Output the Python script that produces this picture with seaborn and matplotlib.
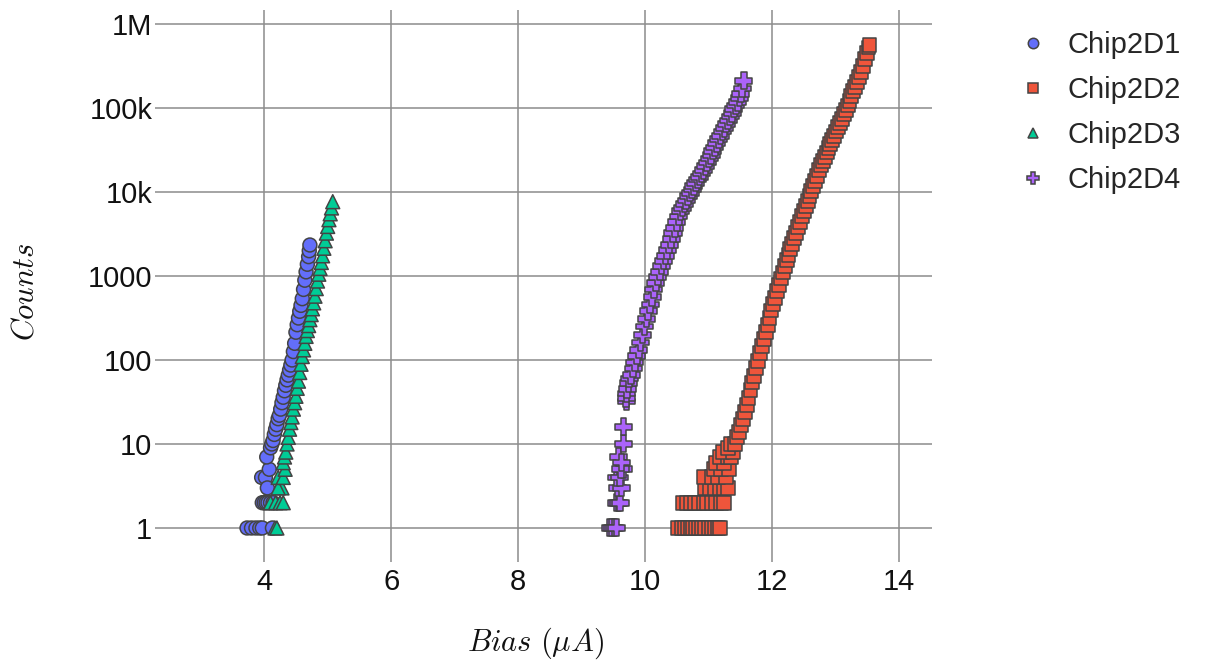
import numpy as np
import pandas as pd
import matplotlib
matplotlib.use("Agg")
import matplotlib.pyplot as plt
import seaborn as sns

# ---------------- data ----------------
series_names = ["Chip2D1", "Chip2D2", "Chip2D3", "Chip2D4"]
series_colors = ["#636EFA", "#EF553B", "#00CC96", "#AB63FA"]
series_markers = ["o", "s", "^", "P"]
series_sizes = [100, 100, 100, 150]

d1_bias = [3.73, 3.80, 3.87, 3.93, 3.97, 4.13,
           3.97, 4.00, 4.03, 4.06, 4.10, 4.14,
           3.96, 4.02, 4.05, 4.08, 4.04,
           4.10, 4.12, 4.14, 4.16, 4.18, 4.20, 4.22, 4.24, 4.26, 4.28,
           4.30, 4.32, 4.34, 4.36, 4.38, 4.40, 4.42, 4.44, 4.46, 4.48,
           4.50, 4.52, 4.54, 4.56, 4.58, 4.60, 4.62, 4.64, 4.66, 4.68,
           4.70, 4.71, 4.72]
d1_counts = [1, 1, 1, 1, 1, 1,
             2, 2, 2, 2, 2, 2,
             4, 4, 3, 5, 7,
             9, 10, 11, 13, 15, 17, 20, 22, 26, 31,
             36, 43, 50, 58, 66, 76, 87, 100, 126, 158,
             214, 263, 316, 380, 447, 537, 692, 891, 1120, 1380,
             1700, 2000, 2340]

d2_bias = [10.52, 10.58, 10.63, 10.68, 10.72, 10.76, 10.80, 10.85, 10.90, 10.95,
           11.00, 11.05, 11.10, 11.15, 11.18,
           10.60, 10.66, 10.72, 10.78, 10.85, 10.92, 10.98, 11.05, 11.12, 11.20, 11.25,
           10.95, 11.02, 11.10, 11.18, 11.25, 11.30,
           10.92, 11.05, 11.15, 11.28,
           11.08, 11.20, 11.32, 11.12, 11.25, 11.18, 11.30, 11.35,
           11.22, 11.38, 11.30, 11.35, 11.42,
           11.45, 11.48, 11.51, 11.54, 11.57, 11.60, 11.63, 11.66, 11.69, 11.72,
           11.75, 11.78, 11.81, 11.84, 11.87, 11.90, 11.93, 11.96, 11.99, 12.02,
           12.05, 12.08, 12.11, 12.14, 12.17, 12.20, 12.23, 12.26, 12.29, 12.32,
           12.35, 12.38, 12.41, 12.44, 12.47, 12.50, 12.53, 12.56, 12.59, 12.62,
           12.65, 12.68, 12.71, 12.74, 12.77, 12.80, 12.83, 12.86, 12.89, 12.92,
           12.95, 12.98, 13.01, 13.04, 13.07, 13.10, 13.13, 13.16, 13.19, 13.22,
           13.25, 13.28, 13.31, 13.34, 13.37, 13.40, 13.43, 13.46, 13.49, 13.52,
           13.535]
d2_counts = [1, 1, 1, 1, 1, 1, 1, 1, 1, 1,
             1, 1, 1, 1, 1,
             2, 2, 2, 2, 2, 2, 2, 2, 2, 2, 2,
             3, 3, 3, 3, 3, 3,
             4, 4, 4, 4,
             5, 5, 5, 6, 6, 7, 7, 7,
             8, 8, 9, 10, 10,
             12, 14, 17, 20, 24, 29, 35, 44, 54, 65,
             80, 98, 120, 145, 178, 214, 263, 316, 389, 468,
             550, 660, 776, 933, 1100, 1320, 1550, 1780, 2090, 2400,
             2820, 3240, 3800, 4370, 5130, 5890, 6760, 7760, 8910, 10200,
             11700, 13500, 15500, 18200, 20900, 23400, 26300, 29500, 33100, 37200,
             41700, 46800, 52500, 58900, 66100, 74100, 85100, 95500, 107000, 120000,
             138000, 158000, 178000, 204000, 234000, 269000, 316000, 380000, 447000, 525000,
             562000]

d3_bias = [4.17, 4.20, 4.10, 4.18, 4.25, 4.30, 4.28, 4.22, 4.22, 4.30, 4.33,
           4.30, 4.32, 4.34, 4.36, 4.38, 4.40, 4.42, 4.44, 4.46, 4.48,
           4.50, 4.52, 4.54, 4.56, 4.58, 4.60, 4.62, 4.64, 4.66, 4.68,
           4.70, 4.72, 4.74, 4.76, 4.78, 4.80, 4.82, 4.84, 4.86, 4.88,
           4.90, 4.92, 4.94, 4.96, 4.98, 5.00, 5.02, 5.04, 5.06, 5.08]
d3_counts = [1, 1, 2, 2, 2, 2, 3, 3, 4, 4, 5,
             6, 7, 8, 10, 12, 15, 18, 21, 26, 31,
             37, 46, 56, 71, 89, 110, 132, 158, 191, 224,
             257, 302, 347, 407, 479, 575, 708, 871, 1050, 1230,
             1450, 1740, 2140, 2630, 3240, 3890, 4680, 5500, 6460, 7670]

d4_bias = [9.45, 9.48, 9.52, 9.55, 9.55, 9.58, 9.61, 9.57, 9.63, 9.55, 9.60,
           9.66, 9.62, 9.58, 9.63, 9.66, 9.66, 9.71, 9.70, 9.71, 9.72,
           9.74, 9.75,
           9.78, 9.81, 9.84, 9.87, 9.90, 9.93, 9.96, 9.99, 10.02, 10.05,
           10.08, 10.11, 10.14, 10.17, 10.20, 10.23, 10.26, 10.29, 10.32, 10.35,
           10.38, 10.41, 10.44, 10.47, 10.50, 10.53, 10.56, 10.59, 10.62, 10.65,
           10.68, 10.71, 10.74, 10.77, 10.80, 10.83, 10.86, 10.89, 10.92, 10.95,
           10.98, 11.01, 11.04, 11.07, 11.10, 11.13, 11.16, 11.19, 11.22, 11.25,
           11.28, 11.31, 11.34, 11.37, 11.40, 11.43, 11.46, 11.49, 11.51, 11.53,
           11.555]
d4_counts = [1, 1, 1, 1, 2, 2, 2, 3, 3, 4, 4,
             5, 5, 7, 6, 10, 16, 32, 35, 40, 45,
             53, 60,
             66, 79, 93, 112, 132, 162, 200, 251, 309, 380,
             457, 562, 692, 832, 977, 1120, 1320, 1510, 1740, 2040,
             2340, 2750, 3240, 3720, 4370, 5130, 5890, 6460, 7240, 7940,
             8910, 9770, 10700, 11700, 12900, 14100, 15100, 16600, 18200, 20400,
             22400, 25100, 27500, 30900, 33900, 38000, 42700, 46800, 52500, 57500,
             64600, 70800, 79400, 87100, 97700, 107000, 117000, 132000, 148000, 170000,
             211000]

y_tick_values = [1, 10, 100, 1000, 10000, 100000, 1000000]
y_tick_labels = ["1", "10", "100", "1000", "10k", "100k", "1M"]
x_tick_values = [4, 6, 8, 10, 12, 14]

# ---------------- build long table ----------------
frames = []
for name, b, c in zip(series_names,
                      [d1_bias, d2_bias, d3_bias, d4_bias],
                      [d1_counts, d2_counts, d3_counts, d4_counts]):
    frames.append(pd.DataFrame({"bias": b, "counts": c, "chip": name}))
df = pd.concat(frames, ignore_index=True)

# ---------------- style ----------------
sns.set_theme(style="white")
plt.rcParams["font.family"] = ["Liberation Sans", "DejaVu Sans"]
plt.rcParams["mathtext.fontset"] = "cm"

W, H = 1207, 666
fig = plt.figure(figsize=(W / 100, H / 100), dpi=100)
ax = fig.add_axes([155 / W, 1 - 562 / H, (932 - 155) / W, (562 - 10) / H])

ax.set_yscale("log")
ax.set_xlim(2.28, 14.52)
ax.set_ylim(10 ** -0.405, 10 ** 6.167)

ax.grid(True, color="#8c8c8c", linewidth=1.1)
ax.set_axisbelow(True)
for s in ax.spines.values():
    s.set_visible(False)

sns.scatterplot(data=df, x="bias", y="counts", hue="chip", style="chip",
                size="chip",
                hue_order=series_names, style_order=series_names,
                size_order=series_names,
                palette=dict(zip(series_names, series_colors)),
                markers=dict(zip(series_names, series_markers)),
                sizes=dict(zip(series_names, series_sizes)),
                edgecolor="#444444", linewidth=1.1, alpha=1,
                ax=ax, legend=True, zorder=3)

ax.set_xticks(x_tick_values)
ax.set_xticklabels([str(v) for v in x_tick_values])
ax.set_yticks(y_tick_values)
ax.set_yticklabels(y_tick_labels)
ax.yaxis.set_minor_locator(matplotlib.ticker.NullLocator())
ax.tick_params(axis="both", which="both", length=0, labelsize=21, colors="#111111")
ax.tick_params(axis="x", pad=4)
ax.tick_params(axis="y", pad=2)

ax.set_xlabel(r"$Bias\ (\mu A)$", fontsize=22, color="#111111")
ax.set_ylabel(r"$Counts$", fontsize=22, color="#111111")
ax.xaxis.set_label_coords((536 - 155) / 777, (562 - 643) / 552)
ax.xaxis.label.set_va("center")
ax.yaxis.set_label_coords((25 - 155) / 777, (562 - 292) / 552)
ax.yaxis.label.set_va("center")

sns.move_legend(ax, "upper left", bbox_to_anchor=(1018 / W, 1 - 31 / H),
                bbox_transform=fig.transFigure, frameon=False, title=None,
                fontsize=21, handlelength=1.0,
                handletextpad=0.7, labelspacing=0.58, borderpad=0,
                borderaxespad=0)
leg = ax.get_legend()
for h, m in zip(leg.legend_handles, series_markers):
    try:
        h.set_markersize(8.5 if m == "P" else 7.5)
    except AttributeError:
        pass

fig.savefig("out.png", dpi=100, facecolor="white")
